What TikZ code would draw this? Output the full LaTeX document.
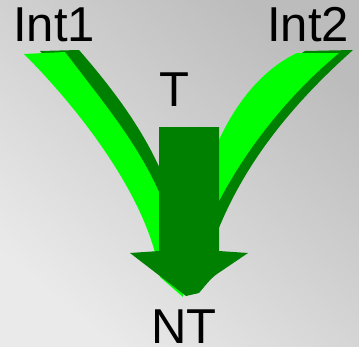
\documentclass[tikz,border=0pt]{standalone}
\usepackage{fontspec}
\setmainfont{Liberation Sans}
\begin{document}
\begin{tikzpicture}[x=1pt,y=-1pt,
  lbl/.style={inner sep=0pt,anchor=base,font=\fontsize{49}{52}\selectfont},
  lightarm/.style={fill=brightgreen},
  darkarm/.style={fill=darkgreen}]
\definecolor{brightgreen}{RGB}{0,255,0}
\definecolor{darkgreen}{RGB}{0,128,0}
\definecolor{bgdark}{RGB}{188,188,188}
\definecolor{bglight}{RGB}{234,234,234}

% background
\useasboundingbox (0,0) rectangle (359,346);
\shade[top color=bgdark,bottom color=bglight,shading angle=-40] (0,0) rectangle (359,346);

% left arm: dark side, then bright face
\path[darkarm] (40,51) -- (79,50) .. controls (140,120) and (185,190) .. (188,290)
  .. controls (164,197) and (96,107) .. (40,51) -- cycle;
\path[lightarm] (24,54) -- (65,52) .. controls (120,125) and (180,190) .. (183,297)
  -- (160,277) .. controls (150,200) and (80,110) .. (24,54) -- cycle;

% right arm: dark side, then bright face
\path[darkarm] (305,51) -- (353,50) .. controls (280,115) and (222,190) .. (200,288)
  .. controls (204,180) and (249,87) .. (305,51) -- cycle;
\path[lightarm] (297,53) -- (339,53) .. controls (270,110) and (205,200) .. (184,295)
  .. controls (190,180) and (230,85) .. (297,53) -- cycle;

% central block arrow
\path[darkarm] (159,127) -- (219,127) -- (219,251) -- (248,253) -- (217,274)
  .. controls (210,279) and (205,286) .. (199,293) -- (186,296) -- (130,253)
  -- (159,251) -- cycle;

% labels
\node[lbl] (int1) at (54,41) {Int1};
\node[lbl] (int2) at (308,41) {Int2};
\node[lbl] (t) at (174,106) {T};
\node[lbl] (nt) at (184,343) {NT};
\end{tikzpicture}
\end{document}
